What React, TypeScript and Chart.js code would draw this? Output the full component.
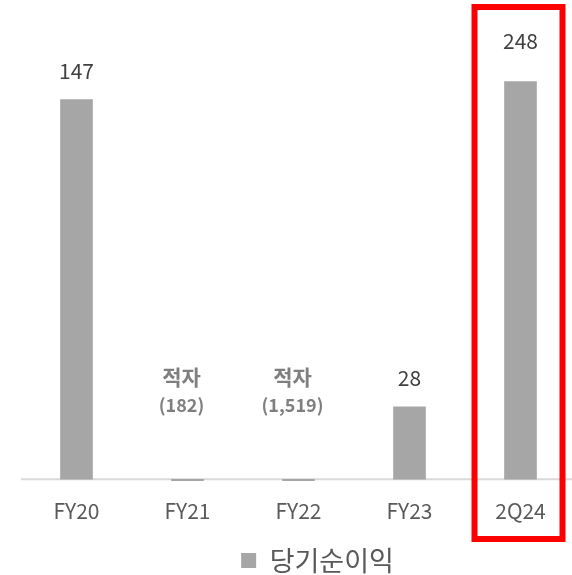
import React, { useEffect, useRef } from "react";
import { Chart, registerables } from "chart.js";

Chart.register(...registerables);

const categories = ["FY20", "FY21", "FY22", "FY23", "2Q24"];
// bar heights as drawn in the picture (2Q24 bar is drawn shorter than its label)
const barValues = [147, -0.6, -0.6, 28, 154];
const valueLabels = ["147", "(182)", "(1,519)", "28", "248"];
const lossFlags = [false, true, true, false, false];
const lossText = "적자";
const seriesName = "당기순이익";
const highlightIndex = 4;

const FONT = "'Noto Sans CJK KR', 'Noto Sans', sans-serif";

const labelPlugin = {
  id: "valueLabels",
  afterLayout(chart: any) {
    const lg = chart.legend;
    if (lg) {
      lg.left += 19;
      lg.right += 19;
    }
  },
  beforeDatasetsDraw(chart: any) {
    const { ctx, chartArea, scales } = chart;
    const y0 = scales.y.getPixelForValue(0);
    ctx.save();
    ctx.strokeStyle = "#d9d9d9";
    ctx.lineWidth = 2;
    ctx.beginPath();
    ctx.moveTo(chartArea.left, y0);
    ctx.lineTo(chart.width, y0);
    ctx.stroke();
    ctx.restore();
  },
  afterDatasetsDraw(chart: any) {
    const { ctx, scales } = chart;
    const meta = chart.getDatasetMeta(0);
    const y0 = scales.y.getPixelForValue(0);
    ctx.save();
    ctx.textAlign = "center";
    ctx.textBaseline = "middle";
    meta.data.forEach((bar: any, i: number) => {
      if (lossFlags[i]) {
        const x = bar.x - 6;
        ctx.fillStyle = "#7f7f7f";
        ctx.font = `bold 21px ${FONT}`;
        ctx.fillText(lossText, x, y0 - 102);
        ctx.font = `bold 18px ${FONT}`;
        ctx.fillText(valueLabels[i], x, y0 - 74);
      } else {
        const off = i === highlightIndex ? 40 : 29;
        ctx.fillStyle = "#404040";
        ctx.font = `21px ${FONT}`;
        ctx.fillText(valueLabels[i], bar.x, bar.y - off);
      }
    });
    ctx.restore();
  },
  afterDraw(chart: any) {
    const { ctx, scales } = chart;
    const cx = scales.x.getPixelForValue(highlightIndex);
    ctx.save();
    ctx.strokeStyle = "#ff0000";
    ctx.lineWidth = 6;
    ctx.strokeRect(cx - 46, 7, 88, 532);
    ctx.restore();
  },
};

export default function App() {
  const ref = useRef<HTMLCanvasElement | null>(null);
  useEffect(() => {
    if (!ref.current) return;
    Chart.defaults.font.family = FONT;
    const chart = new Chart(ref.current, {
      type: "bar",
      data: {
        labels: categories,
        datasets: [
          {
            label: seriesName,
            data: barValues,
            backgroundColor: "#a6a6a6",
            borderWidth: 0,
            barThickness: 32,
          },
        ],
      },
      options: {
        animation: false,
        responsive: false,
        devicePixelRatio: 1,
        layout: { padding: { left: 21, right: 2, top: 66, bottom: 0 } },
        plugins: {
          legend: {
            position: "bottom",
            labels: {
              boxWidth: 15,
              boxHeight: 15,
              padding: 6,
              color: "#595959",
              font: { size: 27, family: FONT },
            },
          },
          tooltip: { enabled: false },
        },
        scales: {
          x: {
            grid: { display: false, drawTicks: false },
            border: { display: false },
            ticks: { color: "#595959", font: { size: 21, family: FONT }, padding: 17 },
          },
          y: {
            display: false,
            min: -1,
            max: 160,
          },
        },
      },
      plugins: [labelPlugin],
    });
    return () => chart.destroy();
  }, []);
  return (
    <div style={{ position: "absolute", left: 0, top: 0, width: 572, height: 575, overflow: "hidden", background: "#fff" }}>
      <canvas ref={ref} width={578} height={584} style={{ display: "block" }} />
    </div>
  );
}
